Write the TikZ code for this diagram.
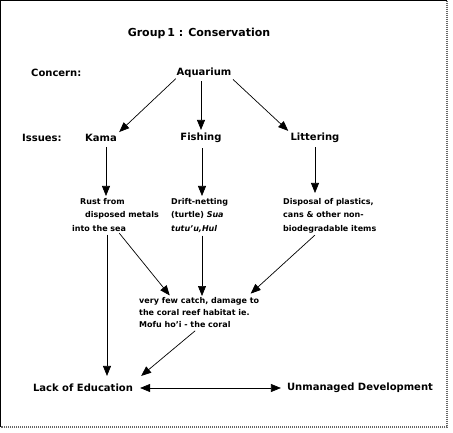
\documentclass[tikz,border=0pt]{standalone}
\usepackage{fontspec}
\setmainfont{DejaVu Sans}
\usetikzlibrary{arrows.meta,calc}
\begin{document}
\begin{tikzpicture}[x=1pt,y=-1pt,
  lbl/.style={inner sep=0pt,font=\fontsize{10}{12}\selectfont\bfseries},
  body/.style={inner sep=0pt,anchor=north west,align=left,font=\fontsize{8}{13.5}\selectfont\bfseries},
  arr/.style={-{Triangle[length=10pt,width=8pt]},line width=0.7pt,draw=black}]
\useasboundingbox (0,0) rectangle (453,433);
\draw[black,line width=1.2pt] (0.6,427) -- (0.6,0.6) -- (447,0.6);
\draw[black!60,line width=1.2pt,dash pattern=on 1pt off 1pt] (447,0.6) -- (447,427) -- (0.6,427);

\node[inner sep=0pt,font=\fontsize{11}{13}\selectfont\bfseries] (title) at (199,33) {Group\,1 : Conservation};
\node[lbl,anchor=west] (concern) at (31,73) {Concern:};
\node[lbl] (aquarium) at (204,73) {Aquarium};
\node[lbl,anchor=west] (issues) at (22,138) {Issues:};
\node[lbl] (kama) at (101,138) {Kama};
\node[lbl] (fishing) at (201,138) {Fishing};
\node[lbl] (littering) at (315,138) {Littering};

\node[body] (rust) at (72,198) {\hspace*{8pt}Rust from\\\hspace*{13pt}disposed metals\\into the sea};
\node[body] (drift) at (171,198) {Drift-netting\\(turtle) \textit{Sua}\\\textit{tutu'u,Hul}};
\node[body] (disposal) at (283,198) {Disposal of plastics,\\cans \& other non-\\biodegradable items};
\node[body,font=\fontsize{8}{12}\selectfont\bfseries] (cons) at (139,297) {very few catch, damage to\\the coral reef habitat ie.\\Mofu ho'i - the coral};

\node[lbl] (lack) at (83,388) {Lack of Education};
\node[lbl] (unman) at (360,388) {Unmanaged Development};

\draw[arr,shorten <=1pt,shorten >=3pt] (aquarium.south west) -- (kama.north east);
\draw[arr,shorten <=3pt,shorten >=3pt] (aquarium.south -| fishing.north) -- (fishing.north);
\draw[arr,shorten <=2pt,shorten >=3pt] (aquarium.south east) -- (littering.north west);

\draw[arr,shorten <=5pt,shorten >=2pt] ([xshift=5pt]kama.south) -- ([xshift=5pt]kama.south |- rust.north);
\draw[arr,shorten <=5pt,shorten >=2pt] ([xshift=1pt]fishing.south) -- ([xshift=1pt]fishing.south |- drift.north);
\draw[arr,shorten <=4pt,shorten >=5pt] (littering.south) -- (littering.south |- disposal.north);

\draw[arr,shorten <=3pt,shorten >=8pt] ([xshift=35pt]rust.south west) -- ([xshift=35pt]rust.south west |- lack.north);
\draw[arr,shorten <=2pt,shorten >=2pt] ([xshift=46pt]rust.south west) -- ([xshift=32pt]cons.north west);
\draw[arr,shorten <=3pt,shorten >=1pt] ([xshift=31pt]drift.south west) -- ([xshift=31pt]drift.south west |- cons.north);
\draw[arr,shorten <=3pt,shorten >=5pt] ([xshift=34pt]disposal.south west) -- ([xshift=108pt]cons.north west);
\draw[arr,shorten <=5pt] ([xshift=60pt]cons.south west) -- ([xshift=8pt,yshift=8pt]lack.north east);

\draw[arr,{Triangle[length=10pt,width=8pt]}-{Triangle[length=10pt,width=8pt]},shorten <=7pt,shorten >=6pt] (lack.east) -- (unman.west);
\end{tikzpicture}
\end{document}
